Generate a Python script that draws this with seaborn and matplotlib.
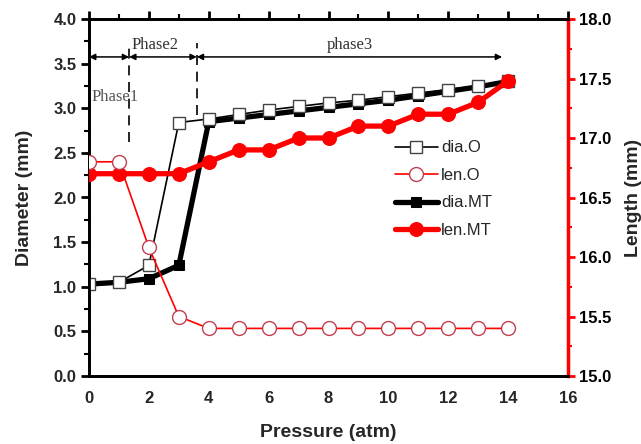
import matplotlib
matplotlib.use("Agg")
import matplotlib.pyplot as plt
import seaborn as sns
import numpy as np
import pandas as pd

pressure = [0, 1, 2, 3, 4, 5, 6, 7, 8, 9, 10, 11, 12, 13, 14]
dia_O = [1.03, 1.05, 1.24, 2.84, 2.88, 2.93, 2.98, 3.02, 3.06, 3.09, 3.13, 3.17, 3.21, 3.25, 3.31]
dia_MT = [1.03, 1.05, 1.09, 1.24, 2.85, 2.89, 2.93, 2.97, 3.01, 3.05, 3.09, 3.14, 3.19, 3.24, 3.30]
len_O = [16.80, 16.80, 16.08, 15.50, 15.40, 15.40, 15.40, 15.40, 15.40, 15.40, 15.40, 15.40, 15.40, 15.40, 15.40]
len_MT = [16.70, 16.70, 16.70, 16.70, 16.80, 16.90, 16.90, 17.00, 17.00, 17.10, 17.10, 17.20, 17.20, 17.30, 17.48]

phase_bounds = [0, 1.34, 3.6, 13.8]
phase_labels = ["Phase1", "Phase2", "phase3"]
phase_arrow_y = 3.575

sns.set_theme(style="white")
plt.rcParams['font.family'] = ['Liberation Sans', 'DejaVu Sans']

fig = plt.figure(figsize=(6.41, 4.44), dpi=100)
ax = fig.add_axes([89/641, 1 - 376/444, (568 - 89)/641, (376 - 19)/444])
ax2 = ax.twinx()

sns.lineplot(x=pressure, y=dia_MT, ax=ax, color="black", lw=3.8, marker="s",
             markersize=7.5, markerfacecolor="black", markeredgecolor="black",
             label="dia.MT", zorder=3)
sns.lineplot(x=pressure, y=dia_O, ax=ax, color="black", lw=1.2, marker="s",
             markersize=8.5, markerfacecolor="white", markeredgecolor="#444444",
             markeredgewidth=1.0, label="dia.O", zorder=4)
sns.lineplot(x=pressure, y=len_MT, ax=ax2, color="#ff0000", lw=3.8, marker="o",
             markersize=10, markerfacecolor="#ff0000", markeredgecolor="#ff0000",
             label="len.MT", zorder=3)
sns.lineplot(x=pressure, y=len_O, ax=ax2, color="#ff0000", lw=1.2, marker="o",
             markersize=10, markerfacecolor="white", markeredgecolor="#c04050",
             markeredgewidth=1.0, label="len.O", zorder=4)

ax.set_xlim(0, 16)
ax.set_ylim(0, 4.0)
ax2.set_ylim(15.0, 18.0)
ax.set_xticks(np.arange(0, 17, 2))
ax.set_xticks(np.arange(0, 17, 1), minor=True)
ax.set_yticks(np.arange(0, 4.01, 0.5))
ax.set_yticks(np.arange(0, 4.01, 0.25), minor=True)
ax2.set_yticks(np.arange(15.0, 18.01, 0.5))
ax2.set_yticks(np.arange(15.0, 18.01, 0.25), minor=True)
ax.set_xticklabels([f"{v:d}" for v in range(0, 17, 2)])
ax.set_yticklabels([f"{v:.1f}" for v in np.arange(0, 4.01, 0.5)])
ax2.set_yticklabels([f"{v:.1f}" for v in np.arange(15.0, 18.01, 0.5)])

for a in (ax, ax2):
    for s in a.spines.values():
        s.set_color("black")
        s.set_linewidth(2.0)
ax2.spines["right"].set_color("#ff0000")
ax2.spines["right"].set_linewidth(2.5)

ax.tick_params(axis="both", which="major", direction="out", length=6, width=2,
               color="black", labelsize=12)
ax.tick_params(axis="both", which="minor", direction="out", length=3.5, width=1.5, color="black")
ax.tick_params(axis="x", which="major", pad=5)
ax.tick_params(axis="y", which="major", pad=3)
ax.tick_params(axis="x", which="both", top=True)
ax.xaxis.set_tick_params(which="both", labeltop=False)
ax2.tick_params(axis="y", which="major", direction="out", length=5, width=2,
                color="#ff0000", labelsize=12, labelcolor="black", pad=3)
ax2.tick_params(axis="y", which="minor", direction="out", length=3, width=1.5, color="#ff0000")
for lab in ax.get_xticklabels() + ax.get_yticklabels() + ax2.get_yticklabels():
    lab.set_fontweight("bold")

ax.set_xlabel("Pressure (atm)", fontsize=14, fontweight="bold", labelpad=13)
ax.set_ylabel("Diameter (mm)", fontsize=14, fontweight="bold", labelpad=15)
ax2.set_ylabel("Length (mm)", fontsize=14, fontweight="bold", labelpad=10)

# phase annotations
for b, ybot in zip(phase_bounds[1:3], [2.62, 2.92]):
    ax.plot([b, b], [ybot, 3.73], color="black", lw=1.2, ls=(0, (6, 4)), zorder=2)
for i in range(3):
    ax.annotate("", xy=(phase_bounds[i + 1], phase_arrow_y), xytext=(phase_bounds[i], phase_arrow_y),
                arrowprops=dict(arrowstyle="<|-|>", color="black", lw=1.1,
                                mutation_scale=9, shrinkA=0, shrinkB=0))
serif = ["Liberation Serif", "DejaVu Serif"]
ax.text(0.08, 3.13, phase_labels[0], fontsize=12, family=serif, color="#555555", ha="left", va="center")
ax.text(2.2, 3.71, phase_labels[1], fontsize=12, family=serif, color="#333333", ha="center", va="center")
ax.text(8.7, 3.71, phase_labels[2], fontsize=12, family=serif, color="#333333", ha="center", va="center")

# legend
if ax.get_legend():
    ax.get_legend().remove()
if ax2.get_legend():
    ax2.get_legend().remove()
h1, l1 = ax.get_legend_handles_labels()
h2, l2 = ax2.get_legend_handles_labels()
hd = dict(zip(l1 + l2, h1 + h2))
order = ["dia.O", "len.O", "dia.MT", "len.MT"]
leg = ax2.legend([hd[k] for k in order], order, loc="upper left",
                 bbox_to_anchor=(0.638, 0.66), frameon=False, fontsize=12,
                 handlelength=2.6, labelspacing=0.75, handletextpad=0.2,
                 borderaxespad=0, borderpad=0)

fig.savefig("out.png", dpi=100)
